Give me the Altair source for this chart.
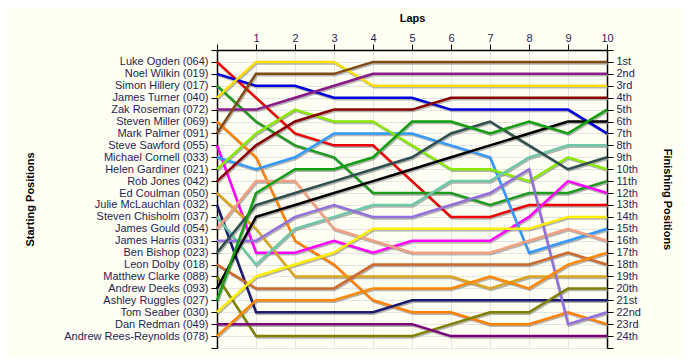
import json
import altair as alt
import pandas as pd

# Starting order (starting position 1..24)
drivers = [
    "Luke Ogden (064)", "Noel Wilkin (019)", "Simon Hillery (017)", "James Turner (040)",
    "Zak Roseman (072)", "Steven Miller (069)", "Mark Palmer (091)", "Steve Sawford (055)",
    "Michael Cornell (033)", "Helen Gardiner (021)", "Rob Jones (042)", "Ed Coulman (050)",
    "Julie McLauchlan (032)", "Steven Chisholm (037)", "James Gould (054)", "James Harris (031)",
    "Ben Bishop (023)", "Leon Dolby (018)", "Matthew Clarke (088)", "Andrew Deeks (093)",
    "Ashley Ruggles (027)", "Tom Seaber (030)", "Dan Redman (049)", "Andrew Rees-Reynolds (078)",
]

laps = [0, 1, 2, 3, 4, 5, 6, 7, 8, 9, 10]

# position of each driver after each lap (lap 0 = start)
positions = [
    [1, 4, 7, 8, 8, 11, 14, 14, 13, 13, 13],
    [2, 3, 3, 4, 4, 4, 5, 5, 5, 5, 7],
    [3, 6, 8, 9, 12, 12, 12, 13, 12, 12, 11],
    [4, 1, 1, 1, 3, 3, 3, 3, 3, 3, 3],
    [5, 5, 4, 3, 2, 2, 2, 2, 2, 2, 2],
    [6, 9, 16, 18, 21, 22, 22, 23, 23, 22, 23],
    [7, 2, 2, 2, 1, 1, 1, 1, 1, 1, 1],
    [8, 17, 17, 16, 17, 16, 16, 16, 14, 11, 12],
    [9, 10, 9, 7, 7, 7, 8, 9, 17, 16, 15],
    [10, 7, 5, 6, 6, 8, 10, 10, 11, 9, 10],
    [11, 8, 6, 5, 5, 5, 4, 4, 4, 4, 4],
    [12, 15, 19, 19, 19, 19, 19, 20, 19, 19, 19],
    [13, 22, 22, 22, 22, 21, 21, 21, 21, 21, 21],
    [14, 18, 15, 14, 13, 13, 11, 11, 9, 8, 8],
    [15, 11, 11, 15, 16, 17, 17, 17, 16, 15, 16],
    [16, 16, 14, 13, 14, 14, 13, 12, 10, 23, 22],
    [17, 13, 12, 11, 10, 9, 7, 6, 8, 10, 9],
    [18, 20, 20, 20, 18, 18, 18, 18, 18, 17, 18],
    [19, 24, 24, 24, 24, 24, 23, 22, 22, 20, 20],
    [20, 14, 13, 12, 11, 10, 9, 8, 7, 6, 6],
    [21, 12, 10, 10, 9, 6, 6, 7, 6, 7, 5],
    [22, 19, 18, 17, 15, 15, 15, 15, 15, 14, 14],
    [23, 23, 23, 23, 23, 23, 24, 24, 24, 24, 24],
    [24, 21, 21, 21, 20, 20, 20, 19, 20, 18, 17],
]

colors = [
    "#EE0000", "#0000DD", "#1E9A1E", "#FFDD00", "#8A1A8A", "#FF8000",
    "#7F4A14", "#FF00FF", "#3399FF", "#88E800", "#8B0000", "#DAA520",
    "#1A1A6E", "#6CC8A6", "#F2A080", "#9370DB", "#2F4F4F", "#CC6A2E",
    "#808000", "#000000", "#11A011", "#FFEE00", "#7A007A", "#FF8800",
]

ordinals = [
    "1st", "2nd", "3rd", "4th", "5th", "6th", "7th", "8th", "9th", "10th", "11th", "12th",
    "13th", "14th", "15th", "16th", "17th", "18th", "19th", "20th", "21st", "22nd", "23rd", "24th",
]

rows = []
for d, pos in zip(drivers, positions):
    for lap, p in zip(laps, pos):
        rows.append({"driver": d, "lap": lap, "position": p})
df = pd.DataFrame(rows)

left_expr = json.dumps([""] + drivers + [""]) + "[datum.value]"
right_expr = json.dumps([""] + ordinals + [""]) + "[datum.value]"

label_color = "#1E1E50"
FONT = "Liberation Sans"

X = alt.X(
    "lap:Q",
    scale=alt.Scale(domain=[0, 10], nice=False, zero=False),
    axis=alt.Axis(
        orient="top", values=laps, labelExpr="datum.value == 0 ? '' : datum.label",
        title="Laps", titleY=-32, titleBaseline="middle", titleFontWeight="bold",
        grid=True, gridColor="#E4E4E4", tickSize=6, labelPadding=1,
        labelFlush=False, labelOverlap=False,
    ),
)

yscale = alt.Scale(domain=[0, 25], reverse=True, nice=False, zero=False)

Y_left = alt.Y(
    "position:Q", scale=yscale,
    axis=alt.Axis(
        orient="left", values=list(range(26)), labelExpr=left_expr,
        title="Starting Positions", titleX=-187, titleY=149, titleAngle=-90,
        titleBaseline="middle", titleAlign="center", titleFontWeight="bold",
        grid=True, gridColor="#E4E4E4", tickSize=6, labelPadding=3,
        labelFlush=False, labelOverlap=False,
    ),
)

Y_right = alt.Y(
    "position:Q", scale=yscale,
    axis=alt.Axis(
        orient="right", values=list(range(26)), labelExpr=right_expr,
        title="Finishing Positions", titleX=59, titleY=149, titleAngle=90,
        titleBaseline="middle", titleAlign="center", titleFontWeight="bold",
        grid=False, tickSize=6, labelPadding=3,
        labelFlush=False, labelOverlap=False,
    ),
)

Y_none = alt.Y("position:Q", scale=yscale, axis=None)

color = alt.Color("driver:N", scale=alt.Scale(domain=drivers, range=colors), legend=None)

base = alt.Chart(df)

shadow = base.mark_line(strokeWidth=2.5, color="#8C8C8C", opacity=0.65, xOffset=1, yOffset=1.5).encode(
    x=X, y=Y_none, detail="driver:N", order="lap:Q"
)
lines = base.mark_line(strokeWidth=2.5).encode(
    x=X, y=Y_left, color=color, order="lap:Q"
)
right = base.mark_point(opacity=0).encode(x=X, y=Y_right)

chart = (
    alt.layer(shadow, lines, right)
    .resolve_scale(y="independent")
    .properties(
        width=390, height=298,
        autosize=alt.AutoSizeParams(type="none"),
        padding={"left": 209, "top": 42, "right": 75, "bottom": 10},
        background="#FFFFF4",
    )
    .configure_view(stroke=None)
    .configure_axis(
        labelFont=FONT, titleFont=FONT, labelFontSize=11, titleFontSize=11,
        labelColor=label_color, titleColor="#000000", domainColor="#000000",
        tickColor="#000000", domainWidth=1.5, tickWidth=1,
    )
)

chart.save("out.html", embed_options={"renderer": "svg", "actions": False})
